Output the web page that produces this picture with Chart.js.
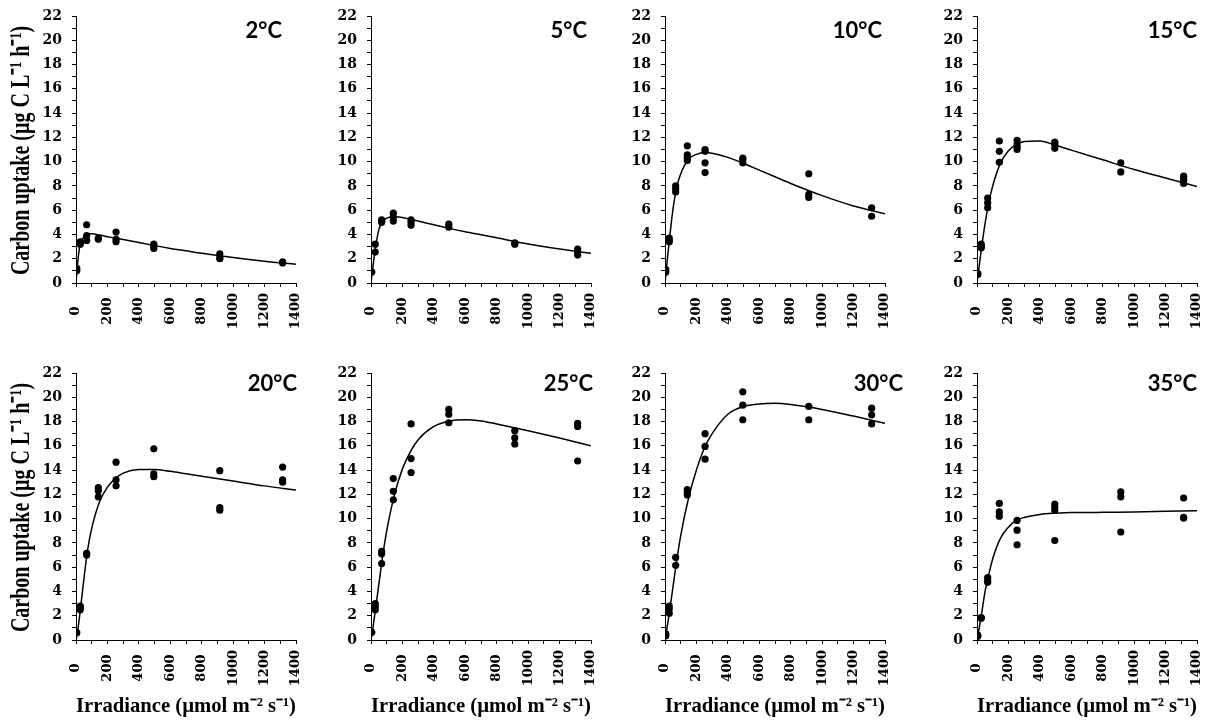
<!DOCTYPE html>
<html>
<head>
<meta charset="utf-8">
<script src="https://cdn.jsdelivr.net/npm/chart.js@4.4.1/dist/chart.umd.min.js"></script>
<style>
    html, body { margin: 0; padding: 0; background: #fff; overflow: hidden; width: 1213px; height: 721px; }
    canvas { position: absolute; }
</style>
</head>
<body>
<script>
// ===== Carbon uptake vs irradiance, 8 temperatures =====

// incubation irradiance levels (µmol m-2 s-1)
const IRR = [5, 27, 68, 142, 255, 495, 915, 1315];
const FIT_X = [0, 10, 25, 50, 75, 100, 150, 200, 250, 300, 400, 500, 600, 700, 800, 1000, 1200, 1400];

const TEMPS = ['2°C', '5°C', '10°C', '15°C', '20°C', '25°C', '30°C', '35°C'];

// replicate measurements, one sub-array per irradiance level (same order as IRR)
const OBS_2C  = [[1.0, 1.2], [3.2, 3.3, 3.4], [4.8, 3.9, 3.5], [3.7, 3.6], [4.2, 3.6, 3.4], [3.2, 3.0, 2.85], [2.4, 2.1, 2.0], [1.75, 1.65]];
const OBS_5C  = [[0.9], [3.2, 2.55], [5.2, 5.0, 5.1], [5.75, 5.4, 5.1], [5.2, 5.0, 4.75], [4.85, 4.6], [3.3, 3.2], [2.8, 2.55, 2.3]];
const OBS_10C = [[0.9, 1.1], [3.7, 3.5, 3.4], [8.0, 7.75, 7.5], [11.3, 10.55, 10.3, 10.1], [11.0, 10.85, 9.9, 9.1], [10.3, 10.15, 9.9], [9.0, 7.3, 7.05], [6.2, 5.5]];
const OBS_15C = [[0.8, 0.7], [3.2, 3.0, 2.9], [7.0, 6.6, 6.2], [11.7, 10.85, 9.95], [11.75, 11.4, 11.2, 11.0], [11.6, 11.4, 11.1], [9.9, 9.15], [8.8, 8.55, 8.4, 8.2]];
const OBS_20C = [[0.6], [2.8, 2.7, 2.5], [7.15, 7.0], [12.55, 12.3, 11.8], [14.65, 13.2, 12.7], [15.75, 13.7, 13.45], [13.95, 10.9, 10.7], [14.25, 13.2, 13.0]];
const OBS_25C = [[0.63], [3.0, 2.75, 2.5], [7.3, 7.1, 6.3], [13.3, 12.25, 11.55], [17.8, 14.95, 13.8], [19.0, 18.6, 17.9], [17.25, 16.65, 16.15], [17.85, 17.6, 14.75]];
const OBS_30C = [[0.5, 0.35], [2.8, 2.55, 2.2], [6.8, 6.15], [12.4, 12.2, 11.95], [17.0, 15.95, 14.9], [20.45, 19.35, 18.15], [19.25, 18.15], [19.1, 18.55, 17.8]];
const OBS_35C = [[0.4, 0.3], [1.85, 1.8], [5.15, 4.9, 4.75], [11.25, 10.55, 10.2], [9.85, 9.05, 7.85], [11.2, 10.95, 10.7, 8.2], [12.2, 11.8, 8.9], [11.7, 10.1, 10.05]];

// fitted P-I curves, values at FIT_X
const FIT_2C  = [0, 1.6, 3.1, 3.8, 4.05, 4.05, 3.95, 3.82, 3.7, 3.58, 3.33, 3.08, 2.85, 2.65, 2.45, 2.1, 1.8, 1.55];
const FIT_5C  = [0, 1.1, 2.6, 4.4, 5.05, 5.35, 5.45, 5.4, 5.25, 5.1, 4.8, 4.5, 4.22, 3.97, 3.72, 3.22, 2.8, 2.45];
const FIT_10C = [0, 1.3, 3.2, 6.0, 7.9, 9.0, 10.2, 10.6, 10.75, 10.7, 10.35, 9.85, 9.3, 8.75, 8.2, 7.2, 6.35, 5.7];
const FIT_15C = [0, 1.0, 2.5, 4.8, 6.6, 8.0, 9.9, 10.9, 11.4, 11.65, 11.7, 11.35, 10.95, 10.55, 10.15, 9.35, 8.65, 7.95];
const FIT_20C = [0, 0.7, 2.2, 5.0, 7.5, 9.2, 11.4, 12.6, 13.3, 13.75, 14.05, 14.05, 13.9, 13.7, 13.5, 13.1, 12.7, 12.35];
const FIT_25C = [0, 0.8, 2.2, 4.6, 7.0, 9.0, 12.0, 14.1, 15.5, 16.5, 17.6, 18.05, 18.15, 18.05, 17.8, 17.25, 16.65, 16.0];
const FIT_30C = [0, 0.8, 2.0, 4.3, 6.6, 8.6, 11.7, 14.0, 15.8, 17.0, 18.6, 19.25, 19.45, 19.5, 19.4, 19.0, 18.45, 17.85];
const FIT_35C = [0, 0.7, 1.8, 3.9, 5.4, 6.7, 8.4, 9.3, 9.85, 10.1, 10.35, 10.45, 10.5, 10.5, 10.52, 10.55, 10.6, 10.65];

const Y_TITLE = 'Carbon uptake (µg C L⁻¹ h⁻¹)';
const X_TITLE = 'Irradiance (µmol m⁻² s⁻¹)';

const ALL_OBS = [OBS_2C, OBS_5C, OBS_10C, OBS_15C, OBS_20C, OBS_25C, OBS_30C, OBS_35C];
const ALL_FIT = [FIT_2C, FIT_5C, FIT_10C, FIT_15C, FIT_20C, FIT_25C, FIT_30C, FIT_35C];

// ----- page layout (px) -----
const COL_LEFT = [0, 321, 615, 927];
const COL_YW = [76, 50, 50, 50];
const ROW_TOP = [0, 350];
const ROW_PAD = [16, 23];
const ROW_XH = [50, 80];
const PLOT_W = 220, PLOT_H = 267, RPAD = 20;
const LABEL_DX = [-14, -4, -3, 0, 1, 2, 18, 0];
const LABEL_DY = [22, 18];

const SERIF = "'Liberation Serif', 'Times New Roman', serif";
const tickFont = { family: "'DejaVu Serif', serif", weight: 'bold', size: 13 };
const yTickFont = { family: "'DejaVu Serif', serif", weight: 'bold', size: 14 };

// temperature tag in the top-right corner + the (wide) y title of the first column
const panelText = {
    id: 'panelText',
    afterDraw(chart, args, opts) {
        const { ctx, chartArea } = chart;
        ctx.save();
        ctx.fillStyle = '#000';
        ctx.font = "bold 22px Lato, 'Open Sans', sans-serif";
        ctx.textAlign = 'right';
        ctx.textBaseline = 'alphabetic';
        ctx.fillText(opts.text, chartArea.right + opts.dx, chartArea.top + opts.dy);
        if (opts.yTitle) {
            ctx.translate(22, (chartArea.top + chartArea.bottom) / 2 + 1);
            ctx.rotate(-Math.PI / 2);
            ctx.scale(1, 1.4);
            ctx.font = "bold 20px " + SERIF;
            ctx.textAlign = 'center';
            ctx.textBaseline = 'middle';
            ctx.fillText(opts.yTitle, 0, 0);
        }
        ctx.restore();
    }
};

function makePanel(i) {
    const row = Math.floor(i / 4), col = i % 4;
    const yw = COL_YW[col], xh = ROW_XH[row], pad = ROW_PAD[row];

    const canvas = document.createElement('canvas');
    const w = yw + PLOT_W + RPAD, h = pad + PLOT_H + xh;
    canvas.width = w; canvas.height = h;
    canvas.style.left = COL_LEFT[col] + 'px';
    canvas.style.top = ROW_TOP[row] + 'px';
    canvas.style.width = w + 'px';
    canvas.style.height = h + 'px';
    document.body.appendChild(canvas);

    const pts = [];
    ALL_OBS[i].forEach((reps, k) => reps.forEach(v => pts.push({ x: IRR[k], y: v })));
    const fit = FIT_X.map((x, k) => ({ x, y: ALL_FIT[i][k] }));

    new Chart(canvas, {
        type: 'scatter',
        data: {
            datasets: [
                { type: 'scatter', data: pts, pointRadius: 3.6, pointBackgroundColor: '#000', pointBorderWidth: 0, backgroundColor: '#000' },
                { type: 'line', data: fit, borderColor: '#000', borderWidth: 1.5, pointRadius: 0, fill: false, cubicInterpolationMode: 'monotone' }
            ]
        },
        options: {
            responsive: false,
            animation: false,
            devicePixelRatio: 1,
            layout: { padding: { top: pad, right: RPAD, left: 0, bottom: 0 } },
            plugins: {
                legend: { display: false },
                tooltip: { enabled: false },
                panelText: { text: TEMPS[i], dx: LABEL_DX[i], dy: LABEL_DY[row], yTitle: col === 0 ? Y_TITLE : null }
            },
            scales: {
                x: {
                    type: 'linear', min: 0, max: 1400,
                    afterFit: s => { s.height = xh; s.paddingLeft = 0; s.paddingRight = 0; },
                    ticks: {
                        stepSize: 100, autoSkip: false, minRotation: 90, maxRotation: 90, padding: 6,
                        color: '#000', font: tickFont,
                        // pad with trailing spaces so rotated labels sit centred like the original
                        callback: v => v % 200 === 0 ? String(v) + ' '.repeat(4 - String(v).length) : ''
                    },
                    grid: { drawOnChartArea: false, drawTicks: true, tickLength: 4, color: '#000' },
                    border: { color: '#000', width: 1 },
                    title: { display: row === 1, text: X_TITLE, color: '#000', font: { family: SERIF, weight: 'bold', size: 21 }, padding: { top: 0, bottom: 1 } }
                },
                y: {
                    min: 0, max: 22,
                    afterFit: s => { s.width = yw; s.paddingTop = 0; s.paddingBottom = 0; },
                    ticks: {
                        stepSize: 1, autoSkip: false, padding: 10, color: '#000', font: yTickFont,
                        callback: v => v % 2 === 0 ? String(v) : ''
                    },
                    grid: { drawOnChartArea: false, drawTicks: true, tickLength: 4, color: '#000' },
                    border: { color: '#000', width: 1 }
                }
            }
        },
        plugins: [panelText]
    });
}

for (let i = 0; i < 8; i++) makePanel(i);
</script>
</body>
</html>
